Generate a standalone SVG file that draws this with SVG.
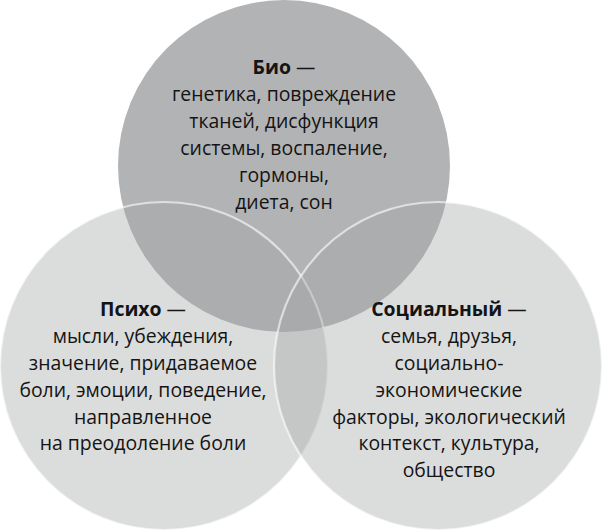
<svg xmlns="http://www.w3.org/2000/svg" width="602" height="531" viewBox="0 0 602 531">
<style>
.top{fill:#b2b3b5}
.side{fill:#a3a4a6;fill-opacity:0.39;stroke:#ffffff;stroke-opacity:0.6;stroke-width:2.2}
text{font-family:"Open Sans","Noto Sans","DejaVu Sans",sans-serif;font-size:19.4px;fill:#141414;text-anchor:middle}
.b{font-weight:bold}
</style>
<rect width="602" height="531" fill="#ffffff"/>
<g id="bio">
<circle class="top" cx="284" cy="166" r="166"/>
<text x="284" y="74"><tspan class="b">Био</tspan> —</text>
<text x="284" y="101">генетика, повреждение</text>
<text x="284" y="128">тканей, дисфункция</text>
<text x="284" y="155">системы, воспаление,</text>
<text x="284" y="182">гормоны,</text>
<text x="284" y="209">диета, сон</text>
</g>
<g id="psycho">
<circle class="side" cx="164" cy="366" r="164"/>
<text x="143" y="316"><tspan class="b">Психо</tspan> —</text>
<text x="143" y="343">мысли, убеждения,</text>
<text x="143" y="370">значение, придаваемое</text>
<text x="143" y="397">боли, эмоции, поведение,</text>
<text x="143" y="424">направленное</text>
<text x="143" y="450">на преодоление боли</text>
</g>
<g id="social">
<circle class="side" cx="438" cy="366" r="164"/>
<text x="449" y="316"><tspan class="b">Социальный</tspan> —</text>
<text x="449" y="343">семья, друзья,</text>
<text x="449" y="370">социально-</text>
<text x="449" y="397">экономические</text>
<text x="449" y="424">факторы, экологический</text>
<text x="449" y="450">контекст, культура,</text>
<text x="449" y="477">общество</text>
</g>
<g id="connectors"></g>
</svg>
